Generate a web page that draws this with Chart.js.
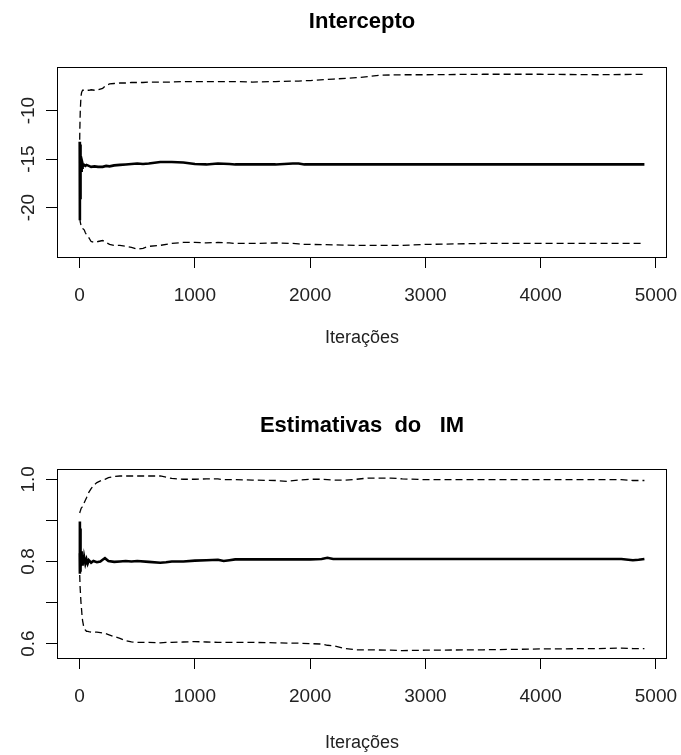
<!DOCTYPE html>
<html><head><meta charset="utf-8">
<script src="https://cdn.jsdelivr.net/npm/chart.js@4"></script>
<style>
html,body{margin:0;padding:0;background:#fff;}
#wrap{position:relative;width:681px;height:755px;background:#fff;}
canvas{position:absolute;left:0;}
</style>
</head><body>
<div id="wrap">
<canvas id="c1" width="681" height="378" style="top:0px"></canvas>
<canvas id="c2" width="681" height="377" style="top:378px"></canvas>
</div>
<script>
const FONT = '"Liberation Sans", Arial, Helvetica, sans-serif';
const xTickValues = [0, 1000, 2000, 3000, 4000, 5000];
const xAxisTitle = 'Iterações';

// ---- Panel 1: Intercepto ----
const title1 = 'Intercepto';
const iter1 = [1,2,3,4,5,6,8,10,12,15, 18,22,26,30,40,50,60,80,100,130,
  160,200,230,260,300,350,400,450,500,550, 600,700,800,900,1000,1100,1200,1300,1350,1500,
  1700,1850,1900,1950,2000,2200,2400,2500,2600,2800, 3000,3500,4000,4500,4900];
const mean1 = [-13.2,-21.3,-14.0,-19.0,-13.5,-17.5,-14.6,-16.8,-15.0,-16.2,
  -15.3,-15.9,-15.5,-15.7,-15.6,-15.7,-15.6,-15.7,-15.8,-15.75,
  -15.8,-15.8,-15.7,-15.75,-15.65,-15.6,-15.55,-15.5,-15.45,-15.5,
  -15.45,-15.3,-15.3,-15.35,-15.5,-15.55,-15.45,-15.5,-15.55,-15.55,
  -15.55,-15.45,-15.45,-15.55,-15.55,-15.55,-15.55,-15.55,-15.55,-15.55,
  -15.55,-15.55,-15.55,-15.55,-15.55];
const upper1 = [-13.0,-12.0,-11.5,-10.8,-10.5,-10.0,-9.5,-9.0,-8.6,-8.3,
  -8.1,-8.0,-7.9,-7.9,-7.85,-7.85,-7.9,-7.9,-7.85,-7.9,
  -7.85,-7.7,-7.4,-7.25,-7.2,-7.15,-7.15,-7.1,-7.1,-7.1,
  -7.05,-7.05,-7.05,-7.0,-7.0,-7.0,-7.0,-7.0,-7.0,-7.05,
  -7.0,-6.95,-6.95,-6.9,-6.9,-6.75,-6.6,-6.5,-6.35,-6.3,
  -6.3,-6.25,-6.25,-6.3,-6.25];
const lower1 = [-21.3,-21.3,-21.2,-21.3,-21.4,-21.5,-21.6,-21.7,-21.8,-21.9,
  -22.0,-22.0,-22.1,-22.2,-22.3,-22.6,-22.8,-23.1,-23.5,-23.6,
  -23.5,-23.4,-23.6,-23.8,-23.9,-23.9,-24.0,-24.1,-24.3,-24.2,
  -24.0,-23.9,-23.7,-23.6,-23.6,-23.65,-23.6,-23.65,-23.7,-23.7,
  -23.65,-23.7,-23.75,-23.8,-23.8,-23.85,-23.9,-23.9,-23.9,-23.9,
  -23.8,-23.7,-23.7,-23.7,-23.7];
const yTicks1 = [-20, -15, -10];
const yLabels1 = ['-20', '-15', '-10'];

// ---- Panel 2: Estimativas do IM ----
const title2 = 'Estimativas  do   IM';
const iter2 = [1,2,3,4,5,6,8,10,12,15, 18,22,26,30,35,40,50,60,70,80,
  100,120,150,180,200,220,250,300,350,400, 450,500,600,700,750,800,900,1000,1100,1200,
  1250,1300,1350,1500,1700,1800,1900,2000,2100,2150, 2200,2300,2400,2500,2700,2800,3000,3500,4000,4500,
  4700,4800,4850,4900];
const mean2 = [0.820,0.897,0.770,0.880,0.780,0.860,0.775,0.840,0.785,0.825,
  0.790,0.815,0.790,0.810,0.795,0.810,0.795,0.805,0.795,0.803,
  0.797,0.801,0.798,0.800,0.804,0.808,0.801,0.799,0.800,0.801,
  0.800,0.801,0.799,0.797,0.798,0.800,0.800,0.802,0.803,0.804,
  0.801,0.803,0.805,0.805,0.805,0.805,0.805,0.805,0.806,0.809,
  0.806,0.806,0.806,0.806,0.806,0.806,0.806,0.806,0.806,0.806,
  0.806,0.803,0.804,0.806];
const upper2 = [0.918,0.919,0.920,0.921,0.922,0.923,0.924,0.926,0.928,0.930,
  0.931,0.932,0.935,0.938,0.940,0.943,0.949,0.955,0.962,0.968,
  0.977,0.985,0.992,0.996,0.999,1.000,1.004,1.007,1.008,1.008,
  1.008,1.008,1.008,1.008,1.005,1.002,1.000,1.000,1.001,1.001,
  0.999,0.999,0.999,0.998,0.997,0.995,0.998,1.000,1.000,0.999,
  0.998,0.998,1.000,1.003,1.003,1.001,0.999,0.999,0.999,0.999,
  0.999,0.997,0.997,0.997];
const lower2 = [0.767,0.760,0.750,0.740,0.735,0.730,0.720,0.710,0.700,0.690,
  0.680,0.665,0.656,0.650,0.642,0.638,0.633,0.630,0.630,0.629,
  0.628,0.628,0.628,0.627,0.626,0.625,0.622,0.617,0.613,0.607,
  0.604,0.603,0.603,0.602,0.603,0.603,0.604,0.605,0.604,0.603,
  0.603,0.603,0.603,0.603,0.602,0.601,0.601,0.600,0.599,0.596,
  0.595,0.588,0.585,0.585,0.584,0.583,0.584,0.585,0.587,0.588,
  0.589,0.588,0.588,0.588];
const yTicks2 = [0.6, 0.7, 0.8, 0.9, 1.0];
const yLabels2 = ['0.6', '', '0.8', '', '1.0'];

function pts(xs, ys) { return xs.map((x, i) => ({ x: x, y: ys[i] })); }

const TICK_LEN = 11, TICK_PAD = 16, TICK_FONT = 19;

function rPlugin(title, titleY, xTitleY, yTicks, yLabels) {
  return {
    id: 'rStyle',
    afterDraw(chart) {
      const ctx = chart.ctx, a = chart.chartArea, ys = chart.scales.y;
      ctx.save();
      ctx.strokeStyle = '#000';
      ctx.lineWidth = 1;
      ctx.strokeRect(Math.round(a.left) + 0.5, Math.round(a.top) + 0.5,
        Math.round(a.right - a.left) - 1, Math.round(a.bottom - a.top));
      ctx.fillStyle = '#222';
      ctx.font = TICK_FONT + 'px ' + FONT;
      ctx.textAlign = 'center';
      ctx.textBaseline = 'alphabetic';
      yTicks.forEach((v, i) => {
        const lab = yLabels[i];
        if (!lab) return;
        const y = ys.getPixelForValue(v);
        ctx.save();
        ctx.translate(34, y);
        ctx.rotate(-Math.PI / 2);
        ctx.fillText(lab, 0, 0);
        ctx.restore();
      });
      const cx = (a.left + a.right) / 2;
      ctx.fillStyle = '#000';
      ctx.font = 'bold 22px ' + FONT;
      ctx.fillText(title, cx, titleY);
      ctx.fillStyle = '#222';
      ctx.font = '18px ' + FONT;
      ctx.fillText(xAxisTitle, cx, xTitleY);
      ctx.restore();
    }
  };
}

function makeChart(id, iters, mean, upper, lower, yMin, yMax, yTicks, yLabels, title, titleY, xTitleY, pad) {
  return new Chart(document.getElementById(id), {
    type: 'line',
    data: {
      datasets: [
        { data: pts(iters, mean), borderColor: '#000', borderWidth: 2.6, pointRadius: 0, fill: false, tension: 0 },
        { data: pts(iters, upper), borderColor: '#000', borderWidth: 1.3, borderDash: [7, 4], pointRadius: 0, fill: false, tension: 0 },
        { data: pts(iters, lower), borderColor: '#000', borderWidth: 1.3, borderDash: [7, 4], pointRadius: 0, fill: false, tension: 0 }
      ]
    },
    options: {
      responsive: false,
      animation: false,
      devicePixelRatio: 1,
      layout: { padding: pad },
      plugins: { legend: { display: false }, tooltip: { enabled: false }, title: { display: false } },
      scales: {
        x: {
          type: 'linear', min: -196, max: 5096,
          afterBuildTicks: s => { s.ticks = xTickValues.map(v => ({ value: v })); },
          afterFit: s => { s.paddingLeft = 0; s.paddingRight = 0; s.height = TICK_LEN + TICK_PAD + TICK_FONT * 1.2; },
          ticks: { font: { size: TICK_FONT, family: FONT }, color: '#222', padding: TICK_PAD, maxRotation: 0, autoSkip: false,
                   callback: v => String(v) },
          grid: { display: true, drawOnChartArea: false, drawTicks: true, tickLength: TICK_LEN, color: '#000', lineWidth: 1 },
          border: { display: false }
        },
        y: {
          type: 'linear', min: yMin, max: yMax,
          afterBuildTicks: s => { s.ticks = yTicks.map(v => ({ value: v })); },
          ticks: { display: false },
          grid: { display: true, drawOnChartArea: false, drawTicks: true, tickLength: TICK_LEN, color: '#000', lineWidth: 1 },
          border: { display: false }
        }
      }
    },
    plugins: [rPlugin(title, titleY, xTitleY, yTicks, yLabels)]
  });
}

makeChart('c1', iter1, mean1, upper1, lower1, -25.1, -5.5, yTicks1, yLabels1, title1, 28, 343,
  { left: 46, right: 14, top: 67, bottom: 71.2 });
makeChart('c2', iter2, mean2, upper2, lower2, 0.565, 1.025, yTicks2, yLabels2, title2, 54, 370,
  { left: 46, right: 14, top: 91, bottom: 47.2 });
</script>
</body></html>
